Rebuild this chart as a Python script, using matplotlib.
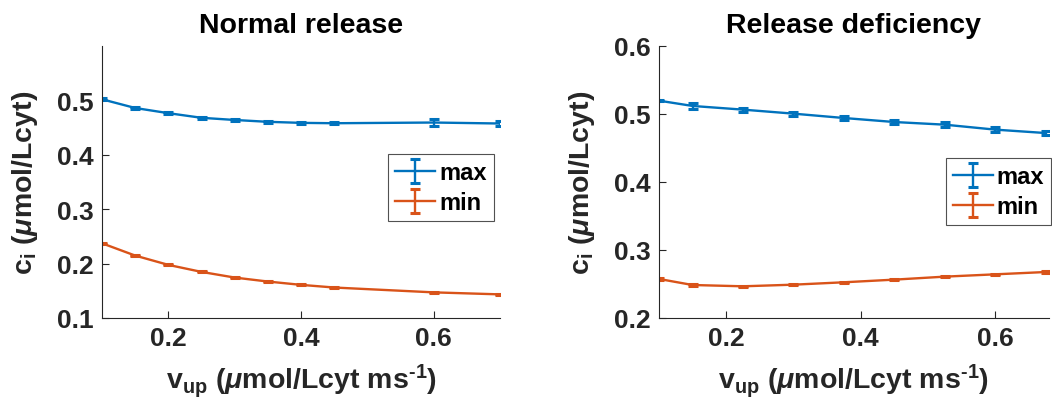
import matplotlib
matplotlib.use('Agg')
import matplotlib.pyplot as plt

plt.rcParams['font.family'] = ['Liberation Sans', 'DejaVu Sans']
plt.rcParams['font.weight'] = 'bold'
plt.rcParams['mathtext.fontset'] = 'custom'
plt.rcParams['mathtext.rm'] = 'Liberation Sans:bold'
plt.rcParams['mathtext.bf'] = 'Liberation Sans:bold'
plt.rcParams['mathtext.it'] = 'Liberation Sans:italic'

# Normal release
v_normal = [0.1, 0.15, 0.2, 0.25, 0.3, 0.35, 0.4, 0.45, 0.6, 0.7]
max_normal = [0.502, 0.486, 0.4765, 0.468, 0.464, 0.4606, 0.4587, 0.458, 0.4593, 0.4575]
max_normal_err = [0.002, 0.002, 0.002, 0.002, 0.002, 0.002, 0.002, 0.002, 0.006, 0.004]
min_normal = [0.2373, 0.2147, 0.1976, 0.1847, 0.1743, 0.167, 0.1609, 0.156, 0.1471, 0.1434]
min_normal_err = [0.001] * 10

# Release deficiency
v_def = [0.1, 0.15, 0.225, 0.3, 0.375, 0.45, 0.525, 0.6, 0.675]
max_def = [0.5196, 0.5118, 0.5064, 0.5005, 0.4941, 0.4882, 0.4843, 0.477, 0.472]
max_def_err = [0.001, 0.004, 0.003, 0.003, 0.003, 0.003, 0.004, 0.004, 0.003]
min_def = [0.2574, 0.2485, 0.2466, 0.249, 0.2525, 0.2564, 0.2608, 0.2642, 0.2676]
min_def_err = [0.001] * 9

blue = '#0072BD'
orange = '#D95319'
dark = '#262626'

fig = plt.figure(figsize=(10.52, 4.14), dpi=100)
ax1 = fig.add_axes([0.097, 0.2295, 0.3783, 0.657])
ax2 = fig.add_axes([0.6264, 0.2295, 0.3707, 0.657])

panels = [
    (ax1, v_normal, max_normal, max_normal_err, min_normal, min_normal_err, 'Normal release',
     (0.1, 0.7), (0.1, 0.6), [0.1, 0.2, 0.3, 0.4, 0.5], (0.719, 0.603)),
    (ax2, v_def, max_def, max_def_err, min_def, min_def_err, 'Release deficiency',
     (0.1, 0.68), (0.2, 0.6), [0.2, 0.3, 0.4, 0.5, 0.6], (0.736, 0.588)),
]

for ax, x, ymax, emax, ymin, emin, title, xl, yl, yt, legpos in panels:
    ax.errorbar(x, ymax, yerr=emax, color=blue, lw=1.7, capsize=3.5, capthick=2.2, label='max')
    ax.errorbar(x, ymin, yerr=emin, color=orange, lw=1.7, capsize=3.5, capthick=2.2, label='min')
    ax.set_xlim(xl)
    ax.set_ylim(yl)
    ax.set_xticks([0.2, 0.4, 0.6])
    ax.set_yticks(yt)
    ax.set_xticklabels(['0.2', '0.4', '0.6'], fontweight='bold')
    ax.set_yticklabels(['%.1f' % t for t in yt], fontweight='bold')
    ax.spines['top'].set_visible(False)
    ax.spines['right'].set_visible(False)
    for s in ['left', 'bottom']:
        ax.spines[s].set_color(dark)
        ax.spines[s].set_linewidth(0.8)
    ax.tick_params(direction='in', length=5, width=0.8, colors=dark, labelsize=19, pad=6)
    ax.set_title(title, fontsize=20.5, fontweight='bold', pad=10)
    ax.set_xlabel(r'$\mathbf{v_{up}}$ ($\mu$mol/Lcyt ms$^{\text{-1}}$)', fontsize=20.5,
                  fontweight='bold', color=dark, labelpad=8)
    ax.set_ylabel(r'$\mathbf{c_i}$ ($\mu$mol/Lcyt)', fontsize=20.5, fontweight='bold',
                  color=dark, labelpad=12)
    leg = ax.legend(loc='upper left', bbox_to_anchor=legpos, borderaxespad=0,
                    prop={'size': 17, 'weight': 'bold'},
                    frameon=True, fancybox=False, edgecolor=dark, handlelength=1.7,
                    handletextpad=0.15, labelspacing=0.3, borderpad=0.3)
    leg.get_frame().set_linewidth(0.8)

fig.savefig('out.png', dpi=100)
